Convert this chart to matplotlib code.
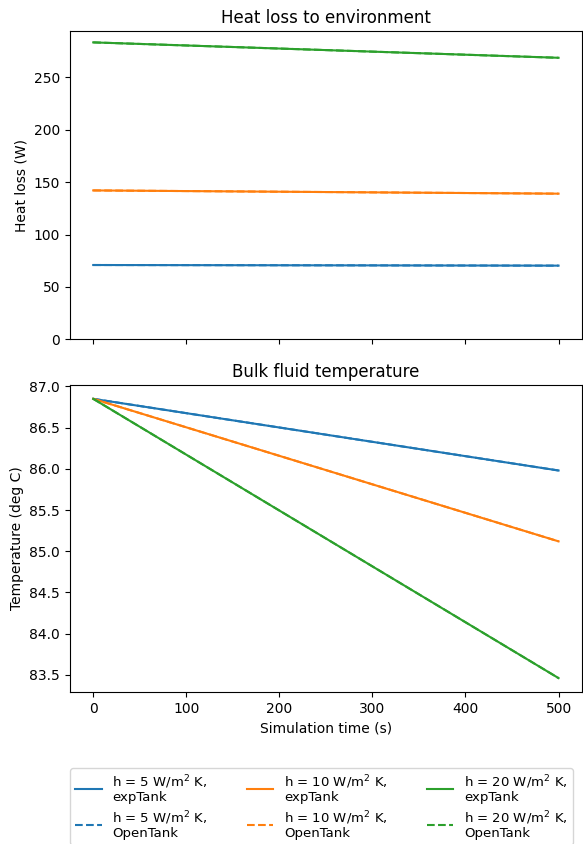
import matplotlib
matplotlib.use("Agg")
import matplotlib.pyplot as plt

# time points (s)
t = [0, 500]

# heat loss to environment (W)
q_exp_5 = [70.9, 70.3]
q_exp_10 = [142.1, 139.0]
q_exp_20 = [283.4, 268.7]
q_open_5 = [70.9, 70.3]
q_open_10 = [142.1, 139.0]
q_open_20 = [283.4, 268.7]

# bulk fluid temperature (deg C)
T_exp_5 = [86.85, 85.98]
T_exp_10 = [86.85, 85.12]
T_exp_20 = [86.85, 83.46]
T_open_5 = [86.85, 85.98]
T_open_10 = [86.85, 85.12]
T_open_20 = [86.85, 83.46]

h_values = [5, 10, 20]
colors = ["tab:blue", "tab:orange", "tab:green"]

fig = plt.figure(figsize=(5.83, 8.44), dpi=100)
ax1 = fig.add_axes([0.120, 0.598, 0.878, 0.365])
ax2 = fig.add_axes([0.120, 0.180, 0.878, 0.364], sharex=ax1)

q_exp = [q_exp_5, q_exp_10, q_exp_20]
q_open = [q_open_5, q_open_10, q_open_20]
T_exp = [T_exp_5, T_exp_10, T_exp_20]
T_open = [T_open_5, T_open_10, T_open_20]

handles = []
for h, c, qe, qo, te, to in zip(h_values, colors, q_exp, q_open, T_exp, T_open):
    l1, = ax1.plot(t, qe, color=c, label=f"h = {h} W/m$^2$ K,\nexpTank")
    l2, = ax1.plot(t, qo, color=c, ls="--", label=f"h = {h} W/m$^2$ K,\nOpenTank")
    ax2.plot(t, te, color=c)
    ax2.plot(t, to, color=c, ls="--")
    handles.append((l1, l2))

ax1.set_ylim(bottom=0)
ax1.set_title("Heat loss to environment")
ax1.set_ylabel("Heat loss (W)")
plt.setp(ax1.get_xticklabels(), visible=False)

ax2.set_title("Bulk fluid temperature")
ax2.set_ylabel("Temperature (deg C)")
ax2.set_xlabel("Simulation time (s)")

# legend order: row 1 expTank, row 2 OpenTank
leg_handles = [hh for pair in handles for hh in pair]
leg = fig.legend(handles=leg_handles, loc="upper left", ncol=3, fontsize=9.5,
                 columnspacing=3.0, labelspacing=0.4, borderaxespad=0,
                 bbox_to_anchor=(0.120, 1 - 768 / 844))
for txt in leg.get_texts():
    txt.set_linespacing(1.0)

fig.savefig("out.png", dpi=100)
